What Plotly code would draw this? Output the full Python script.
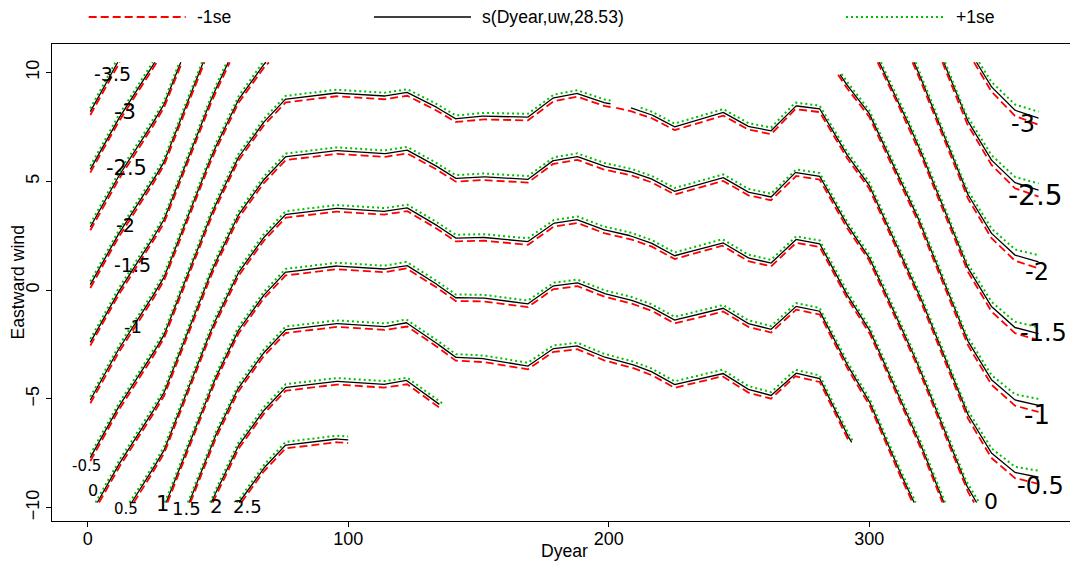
import numpy as np
import plotly.graph_objects as go

# ---------------- data ----------------
# vis.gam grid columns (Dyear) : 40 columns from 1 to 365
dyear_grid = np.linspace(1, 365, 40)

# uw position of the level-0 contour of the fitted surface at every grid column
level0_uw = [-10.35, -8.3, -6.6, -4.8, -2.0, 0.9, 3.3, 4.9, 6.12, 6.27,
             6.42, 6.34, 6.25, 6.45, 5.87, 5.13, 5.22, 5.15, 5.09, 5.94,
             6.15, 5.72, 5.51, 5.16, 4.53, 4.86, 5.19, 4.52, 4.28, 5.40,
             5.23, 3.2, 1.6, -0.9, -3.3, -6.1, -8.9, -10.8, -11.7, -11.9]

# uw distance between two neighbouring contour levels (0.5 apart) at every column
half_unit_uw = [2.65, 2.65, 2.65, 2.65, 2.65, 2.65, 2.65, 2.65, 2.65, 2.65,
                2.65, 2.65, 2.65, 2.65, 2.7, 2.74, 2.78, 2.82, 2.86, 2.88,
                2.9, 2.92, 2.94, 2.95, 2.96, 2.98, 3.0, 3.02, 3.04, 3.07,
                3.1, 3.2, 3.3, 3.37, 3.37, 3.37, 3.37, 3.37, 3.33, 3.3]

# uw shift of the -1se / +1se contours relative to the fit
se_shift_uw = [0.15] * 36 + [0.18, 0.22, 0.26, 0.3]

contour_levels = [-3.5, -3, -2.5, -2, -1.5, -1, -0.5, 0, 0.5, 1, 1.5, 2, 2.5]

uw_limits = (-9.76, 10.47)
dyear_limits = (1, 365)

# grid regions excluded as too far from data: (Dyear0, Dyear1, uw0, uw1)
too_far = [(200.7, 212.3, 8.37, 12.0),
           (131.0, 281.0, 9.6, 12.0),
           (281.0, 289.4, 9.9, 12.0),
           (70.0, 100.0, -12.0, -8.5),
           (100.0, 135.0, -12.0, -6.5),
           (135.0, 282.0, -12.0, -5.25),
           (282.0, 305.0, -12.0, -7.0)]

# hand-written contour labels: text, Dyear, uw, font size
contour_labels = [("-3.5", 9.5, 9.93, 19), ("-3", 14.3, 8.2, 22), ("-2.5", 15, 5.62, 21),
                  ("-2", 14.7, 2.99, 19), ("-1.5", 17.3, 1.15, 19), ("-1", 17.5, -1.66, 18),
                  ("-0.5", -0.65, -8.08, 15), ("0", 2.1, -9.23, 16), ("0.5", 14.7, -10.08, 15),
                  ("1", 28.8, -9.84, 21), ("1.5", 38, -10.05, 18), ("2", 49.3, -9.93, 20),
                  ("2.5", 61.3, -9.96, 18),
                  ("-3", 358.9, 7.63, 24), ("-2.5", 363.7, 4.37, 28), ("-2", 364.5, 0.84, 24),
                  ("-1.5", 366.8, -1.96, 24), ("-1", 364.3, -5.75, 26), ("-0.5", 365.6, -9.0, 24),
                  ("0", 346.6, -9.73, 22)]

x_ticks = [0, 100, 200, 300]
y_ticks = [-10, -5, 0, 5, 10]

# ---------------- contour construction ----------------
L0 = np.array(level0_uw)
S = np.array(half_unit_uw)
SE = np.array(se_shift_uw)


def valid(d, y):
    if y < uw_limits[0] or y > uw_limits[1]:
        return False
    if d < dyear_limits[0] or d > dyear_limits[1]:
        return False
    for d0, d1, u0, u1 in too_far:
        if d0 <= d <= d1 and u0 <= y <= u1:
            return False
    return True


def crossing(p, q):
    vp = valid(*p)
    a, b = 0.0, 1.0
    for _ in range(40):
        m = 0.5 * (a + b)
        pt = (p[0] + m * (q[0] - p[0]), p[1] + m * (q[1] - p[1]))
        if valid(*pt) == vp:
            a = m
        else:
            b = m
    t = a if vp else b
    return (p[0] + t * (q[0] - p[0]), p[1] + t * (q[1] - p[1]))


def contour_path(level, sign):
    sub = 30
    ds, ys = [], []
    for i in range(len(dyear_grid) - 1):
        for k in range(sub):
            t = k / sub
            d = dyear_grid[i] + t * (dyear_grid[i + 1] - dyear_grid[i])
            l0 = L0[i] + t * (L0[i + 1] - L0[i])
            s = S[i] + t * (S[i + 1] - S[i])
            se = SE[i] + t * (SE[i + 1] - SE[i])
            ds.append(d)
            ys.append(l0 - 2 * level * s + sign * se)
    ds.append(dyear_grid[-1])
    ys.append(L0[-1] - 2 * level * S[-1] + sign * SE[-1])
    xo, yo = [], []
    prev = None
    for d, y in zip(ds, ys):
        cur = (d, y)
        vc = valid(d, y)
        if prev is None:
            if vc:
                xo.append(d); yo.append(y)
        else:
            vp = valid(*prev)
            if vp and vc:
                xo.append(d); yo.append(y)
            elif vp and not vc:
                c = crossing(prev, cur)
                xo.append(c[0]); yo.append(c[1])
                xo.append(None); yo.append(None)
            elif (not vp) and vc:
                c = crossing(cur, prev)
                xo.append(c[0]); yo.append(c[1])
                xo.append(d); yo.append(y)
        prev = cur
    return xo, yo


def series(sign):
    X, Y = [], []
    for lv in contour_levels:
        x, y = contour_path(lv, sign)
        X += x + [None]
        Y += y + [None]
    return X, Y


RED = dict(color="#ff0000", width=1.8, dash="8px,4px")
BLACK = dict(color="black", width=1.3)
GREEN = dict(color="#00c000", width=2.0, dash="2px,3px")

fig = go.Figure()
for sign, ln in [(0, BLACK), (-1, RED), (1, GREEN)]:
    X, Y = series(sign)
    fig.add_trace(go.Scatter(x=X, y=Y, mode="lines", line=ln,
                             showlegend=False, hoverinfo="skip"))

# ---------------- layout ----------------
W, H = 1070, 561
ml, mt, mb = 52, 44, 40
pw = W - ml
ph = H - mt - mb


def px_x(px):
    return (px - ml) / pw


def px_y(py):
    return (H - mb - py) / ph


annotations = []
for txt, d, u, sz in contour_labels:
    annotations.append(dict(x=d, y=u, xref="x", yref="y", text=txt, showarrow=False,
                            xanchor="center", yanchor="middle",
                            font=dict(family="DejaVu Sans", size=sz, color="black")))

legend_items = [("-1se", 88.7, 185.7, RED),
                ("s(Dyear,uw,28.53)", 374, 471, dict(color="black", width=1.5)),
                ("+1se", 846, 945, GREEN)]
shapes = []
for txt, x0, x1, ln in legend_items:
    shapes.append(dict(type="line", xref="paper", yref="paper",
                       x0=px_x(x0), x1=px_x(x1), y0=px_y(17), y1=px_y(17), line=ln))
    annotations.append(dict(x=px_x(x1 + 9), y=px_y(17), xref="paper", yref="paper",
                            text=txt, showarrow=False, xanchor="left", yanchor="middle",
                            font=dict(family="Liberation Sans", size=17.6, color="black")))

annotations.append(dict(x=px_x(564), y=px_y(551), xref="paper", yref="paper", text="Dyear",
                        showarrow=False, xanchor="center", yanchor="middle",
                        font=dict(family="Liberation Sans", size=17.6, color="black")))
annotations.append(dict(x=px_x(17), y=0.5, xref="paper", yref="paper", text="Eastward wind",
                        showarrow=False, textangle=-90, xanchor="center", yanchor="middle",
                        font=dict(family="Liberation Sans", size=17.6, color="black")))

x_lo = (ml - 87.7) / 2.605
x_hi = (W - 87.7) / 2.605
fig.update_layout(
    width=W, height=H,
    margin=dict(l=ml, r=0, t=mt, b=mb),
    paper_bgcolor="white", plot_bgcolor="white",
    font=dict(family="Liberation Sans", size=18, color="black"),
    xaxis=dict(range=[x_lo, x_hi], tickvals=x_ticks, showgrid=False, zeroline=False,
               showline=True, linecolor="black", linewidth=1, mirror=True,
               ticks="outside", ticklen=5, tickcolor="black", ticklabelstandoff=-4),
    yaxis=dict(range=[-10.61, 11.31], tickvals=y_ticks, showgrid=False, zeroline=False,
               showline=True, linecolor="black", linewidth=1, mirror=False,
               ticks="outside", ticklen=5, tickcolor="black", tickangle=-90),
    shapes=shapes,
    annotations=annotations,
)

fig.write_html("out.html")
